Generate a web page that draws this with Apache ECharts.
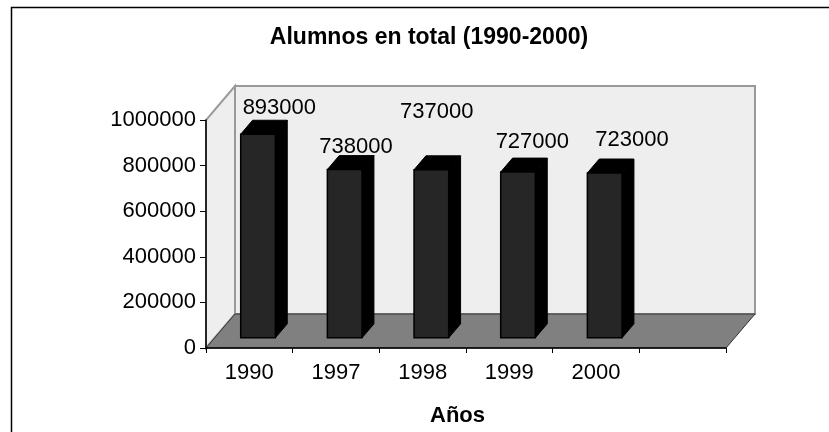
<!DOCTYPE html>
<html><head><meta charset="utf-8">
<script src="https://cdn.jsdelivr.net/npm/echarts@6/dist/echarts.min.js"></script>
<style>html,body{margin:0;padding:0;background:#fff}#c{width:829px;height:432px}</style>
</head><body><div id="c"></div>
<script>
// ---- data ----
const categories = ['1990', '1997', '1998', '1999', '2000', ''];
const alumnos = [893000, 738000, 737000, 727000, 723000];
const yMin = 0, yMax = 1000000, yStep = 200000;
const titleText = 'Alumnos en total (1990-2000)';
const xName = 'Años';

// ---- style constants ----
const FONT = '"Liberation Sans", Arial, sans-serif';
const DEPTH = [29, -34];          // depth offset of back wall
const BAR_FRONT = 0.30;           // depth fraction of bar front face
const BAR_DEPTH = 0.41;           // depth fraction of bar thickness
const BAR_W = 0.40;               // bar width as fraction of band
const labelNudge = [[30, -36], [20, -33], [14, -68], [23, -40], [36, -43]];

const chart = echarts.init(document.getElementById('c'), null, {renderer: 'canvas'});

function renderWalls(params, api) {
  const cs = params.coordSys;
  const x0 = cs.x, x1 = cs.x + cs.width, yT = cs.y, y0 = cs.y + cs.height;
  const dx = DEPTH[0], dy = DEPTH[1];
  return {
    type: 'group',
    children: [
      { type: 'rect', shape: {x: x0 + dx, y: yT + dy, width: x1 - x0, height: y0 - yT},
        style: {fill: '#eeeeee', stroke: '#999999', lineWidth: 2} },
      { type: 'polygon', shape: {points: [[x0, y0], [x0, yT], [x0 + dx, yT + dy], [x0 + dx, y0 + dy]]},
        style: {fill: '#eeeeee', stroke: '#999999', lineWidth: 2} },
      { type: 'polygon', shape: {points: [[x0, y0], [x1, y0], [x1 + dx, y0 + dy], [x0 + dx, y0 + dy]]},
        style: {fill: '#808080', stroke: '#333333', lineWidth: 1} }
    ]
  };
}

function renderBar(params, api) {
  const i = api.value(0), v = api.value(1);
  const top = api.coord([i, v]);
  const base = api.coord([i, 0]);
  const band = api.size([1, 0])[0];
  const fx = DEPTH[0] * BAR_FRONT, fy = DEPTH[1] * BAR_FRONT;
  const bx = DEPTH[0] * BAR_DEPTH, by = DEPTH[1] * BAR_DEPTH;
  const w = band * BAR_W;
  const xl = top[0] - w / 2 + fx, xr = top[0] + w / 2 + fx;
  const yt = top[1] + fy, yb = base[1] + fy;
  const nudge = labelNudge[params.dataIndex] || [0, -30];
  return {
    type: 'group',
    children: [
      { type: 'polygon', shape: {points: [[xr, yt], [xr + bx, yt + by], [xr + bx, yb + by], [xr, yb]]},
        style: {fill: '#000000', stroke: '#000000', lineWidth: 1} },
      { type: 'polygon', shape: {points: [[xl, yt], [xr, yt], [xr + bx, yt + by], [xl + bx, yt + by]]},
        style: {fill: '#000000', stroke: '#000000', lineWidth: 1} },
      { type: 'rect', shape: {x: xl, y: yt, width: xr - xl, height: yb - yt},
        style: {fill: '#262626', stroke: '#000000', lineWidth: 1.5} },
      { type: 'text', z2: 10,
        style: {text: String(v), x: top[0] + nudge[0], y: top[1] + nudge[1],
          fill: '#000', font: '22px ' + FONT, align: 'center', verticalAlign: 'middle'} }
    ]
  };
}

chart.setOption({
  backgroundColor: '#ffffff',
  animation: false,
  title: {
    text: titleText, left: 429, top: 26, textAlign: 'center', padding: 0,
    textStyle: {fontFamily: FONT, fontSize: 23, fontWeight: 'bold', color: '#000'}
  },
  graphic: [{
    type: 'rect', z: -10, silent: true,
    shape: {x: 11.5, y: 7.5, width: 830, height: 440},
    style: {fill: 'none', stroke: '#000', lineWidth: 1.5}
  }],
  grid: {left: 206, right: 103, top: 120, bottom: 84, containLabel: false},
  xAxis: {
    type: 'category', data: categories, z: 4,
    name: xName, nameLocation: 'middle', nameGap: 57,
    nameTextStyle: {fontFamily: FONT, fontSize: 22, fontWeight: 'bold', color: '#000', padding: [0, 17, 0, 0]},
    axisLine: {lineStyle: {color: '#000', width: 1.5}},
    axisTick: {show: true, length: 5, interval: 0, lineStyle: {color: '#000'}},
    axisLabel: {fontFamily: FONT, fontSize: 22, color: '#000', margin: 14, interval: 0},
    splitLine: {show: false}
  },
  yAxis: {
    type: 'value', min: yMin, max: yMax, interval: yStep, z: 4,
    axisLine: {show: true, lineStyle: {color: '#000', width: 1.5}},
    axisTick: {show: true, length: 6, lineStyle: {color: '#000'}},
    axisLabel: {fontFamily: FONT, fontSize: 22, color: '#000', margin: 10,
      formatter: function (v) { return String(v); }},
    splitLine: {show: false}
  },
  series: [
    { type: 'custom', name: 'walls', z: 1, clip: false, silent: true,
      renderItem: renderWalls, data: [[0, 0]] },
    { type: 'custom', name: 'Alumnos', z: 3, clip: false,
      renderItem: renderBar, encode: {x: 0, y: 1},
      data: alumnos.map((v, i) => [i, v]) }
  ]
});
</script>
</body></html>
